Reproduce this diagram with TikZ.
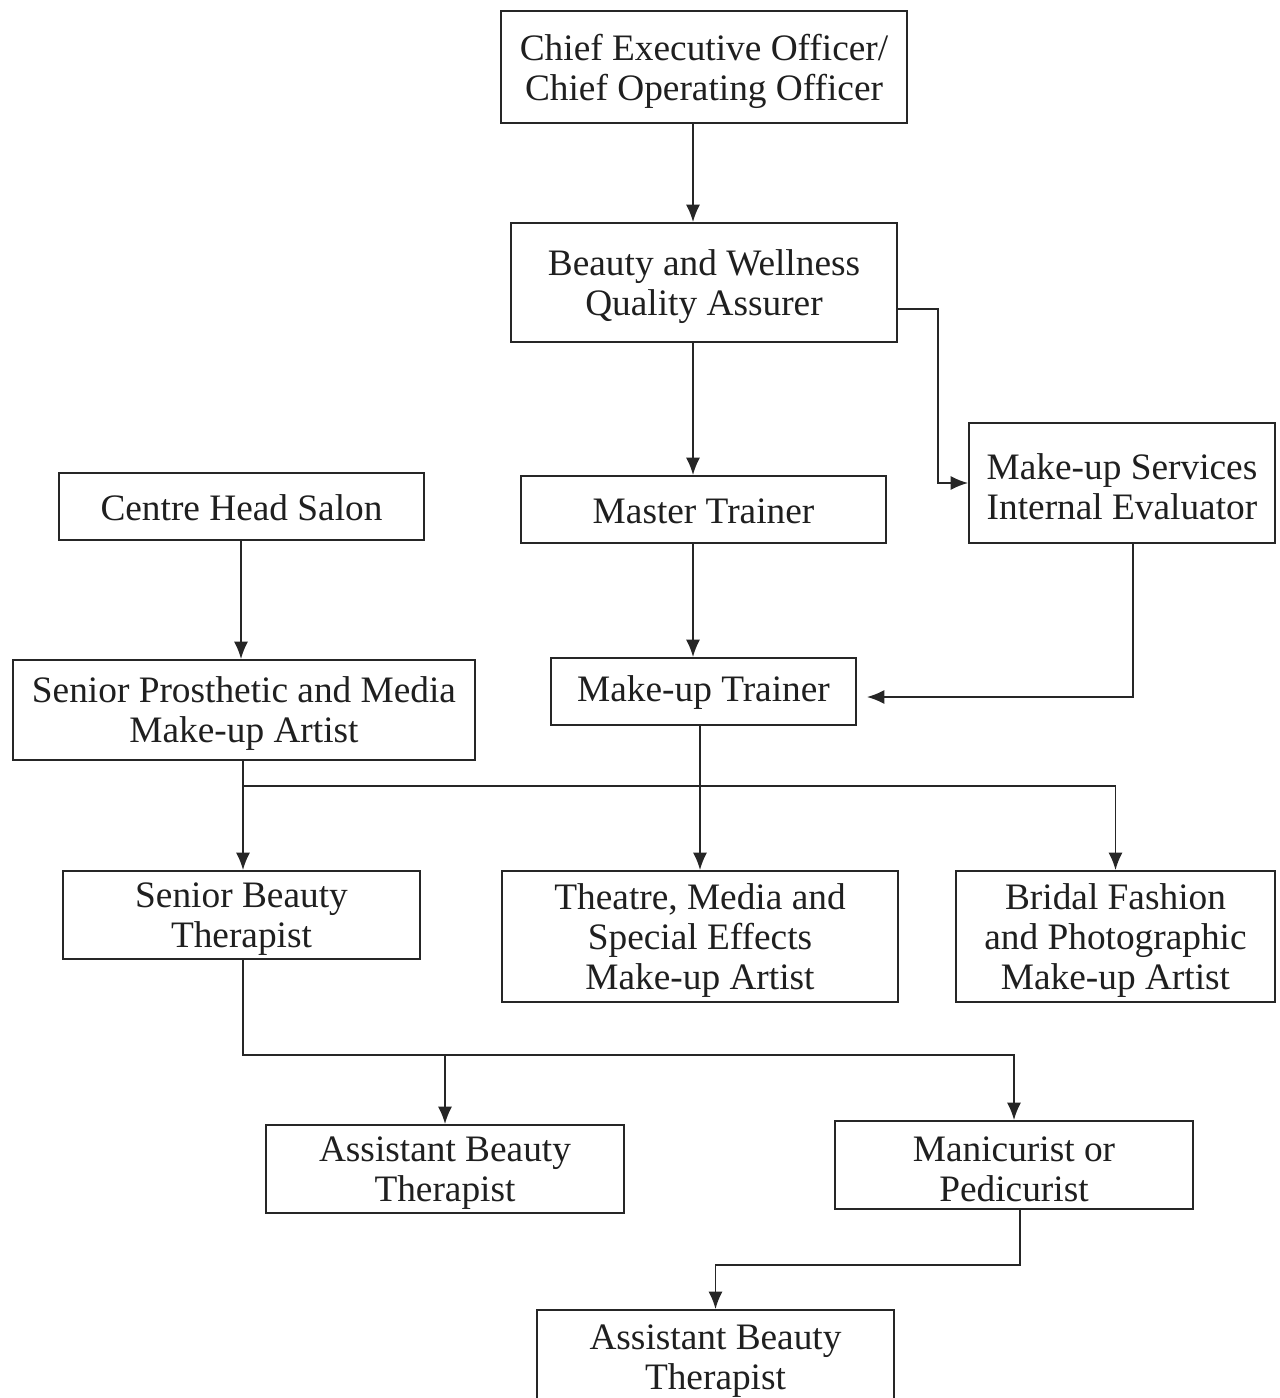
\documentclass[tikz,border=0pt]{standalone}
\usepackage{fontspec}
\setmainfont{Liberation Serif}
\usetikzlibrary{arrows.meta,calc}
\begin{document}
\begin{tikzpicture}[x=0.75pt,y=-0.75pt,
  box/.style={draw=black!85, line width=1.4pt, inner sep=0pt},
  tx/.style={align=center, inner sep=0pt, font=\fontsize{28}{30}\selectfont, text=black!88, yshift=-3pt},
  tx1/.style={tx, yshift=2pt},
  arr/.style={draw=black!85, line width=1.4pt, line join=miter, -{Latex[length=13pt,width=10.5pt]}}]
\useasboundingbox (0,0) rectangle (1280,1398);
\fill[white] (0,0) rectangle (1280,1398);

\node[box, minimum width=406*0.75pt, minimum height=112*0.75pt, label={[tx]center:{Chief Executive Officer/\\Chief Operating Officer}}] (ceo) at (704,67) {};
\node[box, minimum width=386*0.75pt, minimum height=119*0.75pt, label={[tx]center:{Beauty and Wellness\\Quality Assurer}}] (bwqa) at (704,282.5) {};
\node[box, minimum width=365*0.75pt, minimum height=67*0.75pt, label={[tx1]center:{Master Trainer}}] (mt) at (703.5,509.5) {};
\node[box, minimum width=306*0.75pt, minimum height=120*0.75pt, label={[tx]center:{Make-up Services\\Internal Evaluator}}] (msie) at (1122,483) {};
\node[box, minimum width=365*0.75pt, minimum height=67*0.75pt, label={[tx1]center:{Centre Head Salon}}] (chs) at (241.5,506.5) {};
\node[box, minimum width=462*0.75pt, minimum height=100*0.75pt, label={[tx]center:{Senior Prosthetic and Media\\Make-up Artist}}] (spma) at (244,710) {};
\node[box, minimum width=305*0.75pt, minimum height=67*0.75pt, label={[tx1]center:{Make-up Trainer}}] (mut) at (703.5,691.5) {};
\node[box, minimum width=357*0.75pt, minimum height=88*0.75pt, label={[tx]center:{Senior Beauty\\Therapist}}] (sbt) at (241.5,915) {};
\node[box, minimum width=396*0.75pt, minimum height=131*0.75pt, label={[tx]center:{Theatre, Media and\\Special Effects\\Make-up Artist}}] (tmsa) at (700,936.5) {};
\node[box, minimum width=319*0.75pt, minimum height=131*0.75pt, label={[tx]center:{Bridal Fashion\\and Photographic\\Make-up Artist}}] (bfpa) at (1115.5,936.5) {};
\node[box, minimum width=358*0.75pt, minimum height=88*0.75pt, label={[tx]center:{Assistant Beauty\\Therapist}}] (abta) at (445,1169) {};
\node[box, minimum width=358*0.75pt, minimum height=88*0.75pt, label={[tx]center:{Manicurist or\\Pedicurist}}] (mp) at (1014,1165) {};
\node[box, minimum width=357*0.75pt, minimum height=94*0.75pt, label={[tx]center:{Assistant Beauty\\Therapist}}] (abtb) at (715.5,1357) {};

\coordinate (xa) at (693,0);
\coordinate (xb) at (938,0);
\coordinate (xc) at (1133,0);
\coordinate (xd) at (243,0);
\coordinate (xe) at (1020,0);
\coordinate (xf) at (241,0);
\coordinate (ya) at (0,309);
\coordinate (yb) at (0,786);
\coordinate (yc) at (0,1055);
\coordinate (yd) at (0,1265);

\draw[arr] (ceo.south -| xa) -- (bwqa.north -| xa);
\draw[arr] (bwqa.south -| xa) -- (mt.north -| xa);
\draw[arr] (mt.south -| xa) -- (mut.north -| xa);
\draw[arr] (bwqa.east |- ya) -| (xb |- msie.west) -- (msie.west);
\draw[arr] (msie.south -| xc) |- ($(mut.east)+(10,5.5)$);
\draw[arr] (chs.south -| xf) -- (spma.north -| xf);
\draw[arr] (spma.south -| xd) -- (xd |- yb) -| (bfpa.north);
\draw[arr] (xd |- yb) -- (sbt.north -| xd);
\draw[arr] (mut.south -| tmsa.north) -- (tmsa.north);
\draw[arr] (sbt.south -| xd) -- (xd |- yc) -| (mp.north);
\draw[arr] (abta.north |- yc) -- (abta.north);
\draw[arr] (mp.south -| xe) -- (xe |- yd) -| (abtb.north);
\end{tikzpicture}
\end{document}
